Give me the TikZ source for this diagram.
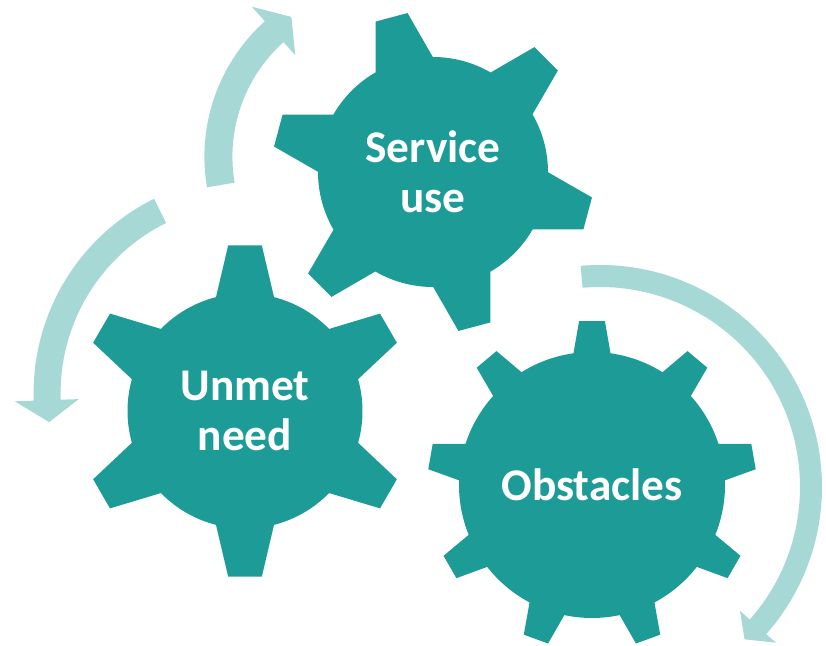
\documentclass[tikz,border=0pt]{standalone}
\usepackage{fontspec}
\setmainfont{Carlito}
\usepackage{tikz}
\usepackage{xcolor}

\definecolor{gearteal}{HTML}{1D9C97}
\definecolor{arrowteal}{HTML}{A6D8D6}

% #1 centre, #2 teeth, #3 first tooth angle, #4 body radius,
% #5 tip radius, #6 half angle at body, #7 half angle at tip
\newcommand{\drawgear}[7]{%
  \fill[gear, shift={#1}] ({#3-#6}:#4)
    \foreach \k in {1,...,#2} {
      -- ({#3+(\k-1)*360/#2-#7}:#5) -- ({#3+(\k-1)*360/#2+#7}:#5)
      -- ({#3+(\k-1)*360/#2+#6}:#4)
      arc[start angle={#3+(\k-1)*360/#2+#6}, end angle={#3+\k*360/#2-#6}, radius=#4]
    } -- cycle;}

\begin{document}
\begin{tikzpicture}[x=0.02cm, y=0.02cm,
    gear/.style={fill=gearteal},
    turn/.style={fill=arrowteal},
    word/.style={text=white, align=center, font=\bfseries\fontsize{25.8}{28.5}\selectfont}]
        \useasboundingbox (0, 0) rectangle (826, 646);

        \coordinate (p) at (433, 474);
        \coordinate (q) at (245, 235);
        \coordinate (r) at (592, 161);

        \drawgear{(p)}{6}{45}{115}{161}{14.9}{5.9}
        \drawgear{(q)}{6}{90}{117.5}{166.5}{14.3}{5.8}
        \drawgear{(r)}{9}{90}{133}{164.5}{8}{4.5}

        \node[word] (s) at (p) {Service\\use};
        \node[word] (u) at (q) {Unmet\\need};
        \node[word] (o) at (r) {Obstacles};

        \coordinate (t1) at (386.4, 489.3);
        \coordinate (t2) at (250.6, 252.9);
        \coordinate (t3) at (600, 159);

        \fill[turn, shift={(t1)}] (189.7:182) arc[start angle=189.7, end angle=131.9, radius=182]
            -- (131.9:201.5) -- (124.2:169) -- (131.9:136.5)
            -- (131.9:154) arc[start angle=131.9, end angle=189.7, radius=154] -- cycle;
        \fill[turn, shift={(t2)}] (116.4:190) arc[start angle=116.4, end angle=182, radius=190]
            -- (182:172) -- (188.2:203.5) -- (182:236)
            -- (182:217) arc[start angle=182, end angle=116.4, radius=217] -- cycle;
        \fill[turn, shift={(t3)}] (95:222) arc[start angle=95, end angle=-41.5, radius=222]
            -- (-41.5:235) -- (-46.5:210) -- (-41.5:187)
            -- (-41.5:200) arc[start angle=-41.5, end angle=95, radius=200] -- cycle;
    \end{tikzpicture}
\end{document}
